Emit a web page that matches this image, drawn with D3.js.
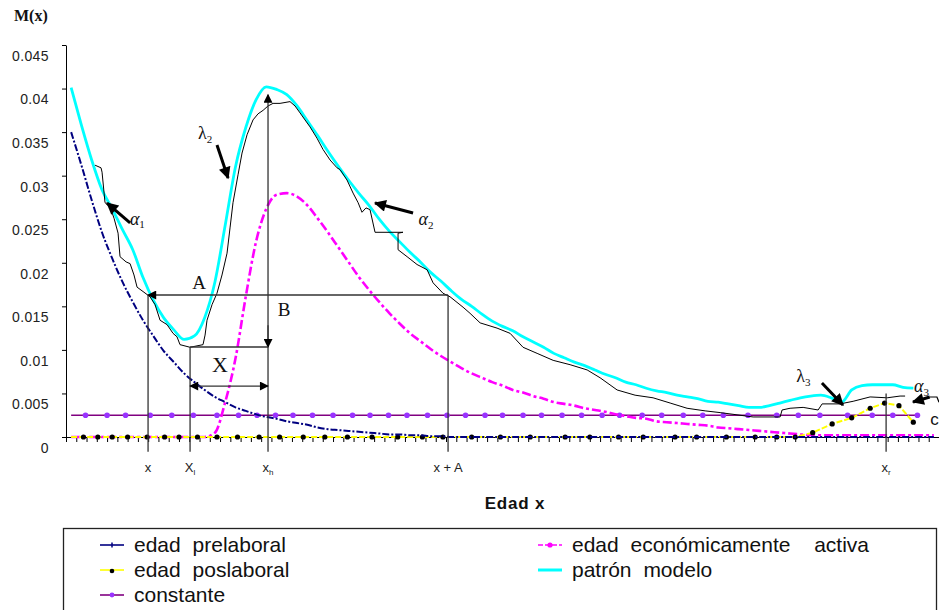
<!DOCTYPE html>
<html><head><meta charset="utf-8">
<script src="https://cdn.jsdelivr.net/npm/d3@7"></script>
<style>
body{margin:0;background:#fff}
svg{display:block}
text{font-family:"Liberation Sans",Arial,sans-serif}
.serif{font-family:"Liberation Serif","Times New Roman",serif}
</style>
</head><body>
<svg id="c" width="939" height="610"></svg>
<script>
// ---------- DATA ----------
const yTickValues = [0,0.005,0.01,0.015,0.02,0.025,0.03,0.035,0.04,0.045];
const yTickLabels = ["0","0.005","0.01","0.015","0.02","0.025","0.03","0.035","0.04","0.045"];
const xTickValues = d3.range(-0.5, 85, 1); // category boundaries (ages 0..84)

// edad prelaboral (ages 0..84)
const preAges = d3.range(0, 85);
const preVals = [0.0350,0.0312,0.0272,0.0235,0.0205,0.0178,0.0155,0.0134,0.0116,0.0099,
  0.0086,0.0073,0.0063,0.0054,0.0046,0.0040,0.0034,0.0030,0.0026,0.0023,
  0.0021,0.0018,0.0016,0.0014,0.0011,0.0009,0.0008,0.0007,0.0006,0.0005,
  0.0004,0.0003,0.0003,0.0002,0.0002,0.0001,0.0001,0,0,0,
  0,0,0,0,0,0,0,0,0,0,
  0,0,0,0,0,0,0,0,0,0,
  0,0,0,0,0,0,0,0,0,0,
  0,0,0,0,0,0,0,0,0,0,
  0,0,0,0,0];

// edad económicamente activa (ages 0..84)
const actAges = d3.range(0, 85);
const actVals = [0,0,0,0,0,0,0,0,0,0,
  0,0,0,0,0.0005,0.0040,0.0090,0.0161,0.0224,0.0262,
  0.0278,0.0280,0.0276,0.0266,0.0251,0.0235,0.0218,0.0201,0.0184,0.0169,
  0.0155,0.0142,0.0130,0.0119,0.0110,0.0101,0.0093,0.0086,0.0079,0.0073,
  0.0068,0.0063,0.0059,0.0054,0.0051,0.0047,0.0044,0.0040,0.0038,0.0036,
  0.0033,0.0031,0.0029,0.0026,0.0024,0.0022,0.0021,0.0018,0.0017,0.0016,
  0.0015,0.0014,0.0013,0.0011,0.0010,0.0009,0.0008,0.0007,0.0006,0.0005,
  0.0004,0.0003,0.0002,0.0002,0.0002,0.0002,0.0002,0.0002,0.0002,0.0002,
  0.0002,0.0002,0.0002,0.0002,0.0002];

// edad poslaboral
const posAges = [0,1.2,2.6,4.0,5.5,7.4,9.1,10.5,12.3,14.2,
  16.2,18.3,20.3,22.6,24.7,26.9,29.3,31.8,34.2,36.2,
  39.0,41.8,44.7,48.1,50.5,53.3,55.7,58.8,60.9,63.8,
  66.6,68.7,70.5,72.2,74.1,76.0,77.8,79.2,80.6,82.0];
const posVals = [0,0,0,0,0,0,0,0,0,0,
  0,0,0,0,0,0,0,0,0,0,
  0,0,0,0,0,0,0,0,0,0,
  0,0,0,0.0005,0.0015,0.0022,0.0033,0.0039,0.0036,0.0017];

// constante
const conAges = [0,1.4,3.5,5.3,7.7,9.8,11.9,14.2,16.3,18.1,
  19.9,21.6,23.5,25.5,27.4,29.1,30.9,32.7,34.7,36.6,
  38.4,40.3,42.0,44.0,45.8,47.8,49.7,51.7,53.4,55.6,
  57.5,59.6,61.5,63.5,65.9,68.7,70.8,72.9,75.6,78.0,
  80.0,82.4];
const conVals = [0.0025,0.0025,0.0025,0.0025,0.0025,0.0025,0.0025,0.0025,0.0025,0.0025,
  0.0025,0.0025,0.0025,0.0025,0.0025,0.0025,0.0025,0.0025,0.0025,0.0025,
  0.0025,0.0025,0.0025,0.0025,0.0025,0.0025,0.0025,0.0025,0.0025,0.0025,
  0.0025,0.0025,0.0025,0.0025,0.0025,0.0025,0.0025,0.0025,0.0025,0.0025,
  0.0025,0.0025];

// patrón modelo (ages 0..82)
const modAges = d3.range(0, 83);
const modVals = [0.0401,0.0358,0.0318,0.0284,0.0262,0.0238,0.0215,0.0183,0.0157,0.0137,
  0.0123,0.0112,0.0116,0.0137,0.0178,0.0243,0.0310,0.0355,0.0387,0.0402,
  0.0399,0.0393,0.0380,0.0363,0.0346,0.0328,0.0311,0.0295,0.0280,0.0266,
  0.0250,0.0236,0.0224,0.0212,0.0201,0.0189,0.0179,0.0168,0.0158,0.0150,
  0.0141,0.0133,0.0127,0.0122,0.0115,0.0109,0.0103,0.0096,0.0091,0.0086,
  0.0082,0.0077,0.0072,0.0068,0.0063,0.0060,0.0056,0.0053,0.0051,0.0048,
  0.0046,0.0044,0.0041,0.0040,0.0038,0.0036,0.0034,0.0034,0.0036,0.0039,
  0.0042,0.0045,0.0047,0.0048,0.0045,0.0040,0.0054,0.0059,0.0060,0.0060,
  0.0060,0.0057,0.0056];

// observed schedule
const obsAges = [2.33,2.91,3.01,3.30,3.79,4.18,4.57,4.76,5.35,5.74,6.12,6.42,7.00,7.68,8.17,8.66,9.34,9.92,10.31,10.60,
  11.58,12.84,13.04,13.23,13.72,14.20,14.69,15.18,15.47,15.76,16.25,16.64,17.13,17.71,18.20,18.69,19.17,19.66,20.34,21.31,
  21.80,22.29,22.77,23.26,23.94,24.53,25.21,25.89,26.18,26.86,27.45,27.94,28.32,28.71,29.10,29.59,32.31,31.83,31.83,32.71,
  33.68,34.66,35.24,36.21,36.89,38.16,38.84,39.82,41.47,42.74,44.00,45.37,46.93,48.58,50.24,51.50,53.16,54.91,56.66,58.32,
  59.97,61.73,63.19,66.40,69.03,69.22,70.00,71.27,72.73,73.12,74.87,76.14,77.79,79.45,80.71,81.20];
const obsVals = [0.0312,0.0309,0.0304,0.0269,0.0264,0.0251,0.0234,0.0207,0.0201,0.0199,0.0186,0.0172,0.0167,0.0161,0.0152,0.0134,0.0129,0.0119,0.0115,0.0106,
  0.0103,0.0106,0.0117,0.0134,0.0152,0.0165,0.0186,0.0211,0.0240,0.0269,0.0301,0.0326,0.0347,0.0364,0.0371,0.0375,0.0380,0.0383,0.0383,0.0385,
  0.0380,0.0372,0.0364,0.0356,0.0343,0.0330,0.0318,0.0309,0.0307,0.0295,0.0280,0.0269,0.0258,0.0263,0.0261,0.0235,0.0235,0.0234,0.0215,0.0207,
  0.0198,0.0192,0.0177,0.0165,0.0161,0.0149,0.0142,0.0131,0.0125,0.0119,0.0103,0.0096,0.0088,0.0083,0.0077,0.0068,0.0054,0.0048,0.0045,0.0039,
  0.0033,0.0030,0.0028,0.0023,0.0023,0.0031,0.0033,0.0034,0.0031,0.0038,0.0038,0.0041,0.0046,0.0045,0.0047,0.0047];

// annotation anchors (age, M(x))
const annX = {x:7.49, xl:11.58, xh:19.17, xA:36.70, xr:79.35};
const annV = {A:0.0163, l:0.01033, X:0.00585, top:0.0393, bottom:-0.0017, r:0.0050};
const xLabels = [["x","",7.49],["X","l",11.58],["x","h",19.17],["x + A","",36.70],["x","r",79.35]];

const legendItems = [
  {name:"edad prelaboral", col:0, row:0, key:"pre"},
  {name:"edad poslaboral", col:0, row:1, key:"pos"},
  {name:"constante", col:0, row:2, key:"con"},
  {name:"edad económicamente  activa", col:1, row:0, key:"act"},
  {name:"patrón modelo", col:1, row:1, key:"mod"}
];

// ---------- STYLES ----------
const C = {
  pre:{stroke:"#000080", width:2, dash:"7,2,2,2"},
  act:{stroke:"#ff00ff", width:2.6, dash:"9,3,3,3"},
  pos:{stroke:"#ffff00", width:2, dash:"6,2"},
  con:{stroke:"#800080", width:1.4, dash:null},
  mod:{stroke:"#00ffff", width:2.8, dash:null},
  obs:{stroke:"#000000", width:1, dash:null}
};

// ---------- CHART ----------
const svg = d3.select("#c");
const x = d3.scaleLinear().domain([-0.5, 84.5]).range([66, 939]);
const y = d3.scaleLinear().domain([0, 0.045]).range([437, 45]);

const defs = svg.append("defs");
function mk(id, w, h){
  defs.append("marker").attr("id", id).attr("markerUnits","userSpaceOnUse")
    .attr("viewBox","0 0 10 10").attr("refX",9).attr("refY",5)
    .attr("markerWidth",w).attr("markerHeight",h).attr("orient","auto-start-reverse")
    .append("path").attr("d","M0,0 L10,5 L0,10 Z").attr("fill","#000");
}
mk("ahThin", 10, 9);
mk("ahBold", 13, 12);

// axes
const gx = svg.append("g").attr("transform","translate(0,437)")
  .call(d3.axisBottom(x).tickValues(xTickValues).tickSize(5).tickSizeOuter(0).tickFormat(""));
gx.selectAll("path,line").attr("stroke","#000");

const gy = svg.append("g").attr("transform","translate(66,0)")
  .call(d3.axisLeft(y).tickValues(yTickValues).tickSize(4).tickSizeOuter(0).tickPadding(13)
    .tickFormat((d,i)=>yTickLabels[yTickValues.indexOf(d)]));
gy.selectAll("path,line").attr("stroke","#000");
gy.selectAll("text").attr("font-size",14).attr("fill","#222").attr("dy","1.1em")
  .attr("letter-spacing","0.4px").attr("font-family","'Liberation Sans',Arial,sans-serif");

function series(ages, vals, st, curve){
  const ln = d3.line().x((d,i)=>x(ages[i])).y(d=>y(d)).curve(curve||d3.curveLinear);
  const p = svg.append("path").attr("d", ln(vals)).attr("fill","none")
    .attr("stroke", st.stroke).attr("stroke-width", st.width).attr("stroke-linejoin","round");
  if (st.dash) p.attr("stroke-dasharray", st.dash);
  return p;
}

// constante
series(conAges, conVals, C.con);
svg.append("g").selectAll("circle").data(conVals.slice(1)).join("circle")
  .attr("cx",(d,i)=>x(conAges[i+1])).attr("cy",d=>y(d)).attr("r",2.8)
  .attr("fill","#9933ff");

// económicamente activa
series(actAges, actVals, C.act, d3.curveMonotoneX);
// poslaboral
series(posAges, posVals, C.pos);
svg.append("g").selectAll("circle").data(posVals.slice(1)).join("circle")
  .attr("cx",(d,i)=>x(posAges[i+1])).attr("cy",d=>y(d)).attr("r",2.6).attr("fill","#000");
// prelaboral
series(preAges, preVals, C.pre, d3.curveMonotoneX);
// modelo
series(modAges, modVals, C.mod, d3.curveMonotoneX);
// observed
series(obsAges, obsVals, C.obs);

// ---------- ANNOTATIONS ----------
const ann = svg.append("g").attr("stroke","#333").attr("stroke-width",1.3).attr("fill","none");
function seg(a1,v1,a2,v2,opt={}){
  const l = ann.append("line").attr("x1",x(a1)).attr("y1",y(v1)).attr("x2",x(a2)).attr("y2",y(v2));
  if(opt.end) l.attr("marker-end","url(#"+opt.end+")");
  if(opt.start) l.attr("marker-start","url(#"+opt.start+")");
  return l;
}
seg(annX.x, annV.A, annX.x, annV.bottom);
seg(annX.xl, annV.l, annX.xl, annV.bottom);
seg(annX.xA, annV.A, annX.xA, annV.bottom);
seg(annX.xr, annV.r, annX.xr, annV.bottom);
seg(annX.xh, annV.bottom, annX.xh, annV.top, {end:"ahThin"});
seg(annX.xh, annV.l+0.0025, annX.xh, annV.l, {end:"ahThin"});
seg(annX.xA, annV.A, annX.x, annV.A, {end:"ahThin"});
seg(annX.xl, annV.l, annX.xh, annV.l);
seg(annX.xl, annV.X, annX.xh, annV.X, {start:"ahThin", end:"ahThin"});

// bold arrows for parameters
const boldArrows = [
  [5.74,0.02457,3.50,0.02686],
  [14.20,0.03352,15.28,0.02973],
  [33.29,0.02571,29.59,0.02686],
  [73.10,0.00620,75.15,0.00367],
  [83.60,0.00459,81.97,0.00402]
];
boldArrows.forEach(b=>{
  svg.append("line").attr("x1",x(b[0])).attr("y1",y(b[1])).attr("x2",x(b[2])).attr("y2",y(b[3]))
    .attr("stroke","#000").attr("stroke-width",3).attr("marker-end","url(#ahBold)");
});
svg.append("path").attr("d",`M${x(83.6)},${y(0.00459)} L${x(84.3)},${y(0.00459)} L${x(84.5)},${y(0.0040)}`)
  .attr("fill","none").attr("stroke","#000").attr("stroke-width",1.2);

// letters
function serifLabel(t, a, v, size){
  svg.append("text").attr("class","serif").attr("x",x(a)).attr("y",y(v)).attr("dy","0.35em")
    .attr("text-anchor","middle").attr("font-size",size).attr("fill","#111").text(t);
}
serifLabel("A", 12.45, 0.0178, 19);
serifLabel("B", 20.73, 0.0147, 19);
serifLabel("X", 14.50, 0.0083, 22);

function greek(ch, sub, a, v){
  const t = svg.append("text").attr("class","serif").attr("x",x(a)).attr("y",y(v)).attr("dy","0.3em")
    .attr("text-anchor","middle").attr("font-size",18).attr("fill","#111");
  t.append("tspan").attr("font-style", ch==="α"?"italic":"normal").text(ch);
  t.append("tspan").attr("font-size",11).attr("dy","0.35em").text(sub);
}
greek("α","1", 6.45, 0.0250);
greek("λ","2", 13.05, 0.0348);
greek("α","2", 34.55, 0.0249);
greek("λ","3", 71.30, 0.0069);
greek("α","3", 82.80, 0.0058);
svg.append("text").attr("x",x(84.05)).attr("y",y(0.0021)).attr("dy","0.35em")
  .attr("text-anchor","middle").attr("font-size",17).attr("fill","#111").text("c");

// x labels
xLabels.forEach(l=>{
  const t = svg.append("text").attr("x",x(l[2])).attr("y",472).attr("text-anchor","middle")
    .attr("font-size",13).attr("fill","#222");
  t.append("tspan").text(l[0]);
  if(l[1]) t.append("tspan").attr("font-size",8).attr("dy","3").text(l[1]);
});

// titles
svg.append("text").attr("class","serif").attr("x",14).attr("y",21).attr("font-size",16)
  .attr("font-weight","bold").attr("fill","#111").text("M(x)");
svg.append("text").attr("x",515).attr("y",509).attr("text-anchor","middle").attr("font-size",17)
  .attr("font-weight","bold").attr("letter-spacing","0.8px").attr("fill","#111").text("Edad x");

// ---------- LEGEND ----------
svg.append("rect").attr("x",63.5).attr("y",528.5).attr("width",873).attr("height",100)
  .attr("fill","none").attr("stroke","#222").attr("stroke-width",1.3);
const colX = [100, 538];
const rowY = [545, 570, 595];
legendItems.forEach(it=>{
  const st = C[it.key];
  const x0 = colX[it.col], yy = rowY[it.row];
  const l = svg.append("line").attr("x1",x0).attr("x2",x0+24).attr("y1",yy).attr("y2",yy)
    .attr("stroke",st.stroke).attr("stroke-width", it.key==="mod"?3:1.6);
  if(it.key==="act") l.attr("stroke-dasharray","5,2");
  if(it.key==="pre") svg.append("line").attr("x1",x0+12).attr("x2",x0+12).attr("y1",yy-2.5).attr("y2",yy+2.5).attr("stroke","#000080").attr("stroke-width",1.5);
  if(it.key==="pos") svg.append("circle").attr("cx",x0+12).attr("cy",yy+1).attr("r",2.3).attr("fill","#000");
  if(it.key==="con") svg.append("circle").attr("cx",x0+12).attr("cy",yy).attr("r",2.4).attr("fill","#9933ff");
  if(it.key==="act") svg.append("circle").attr("cx",x0+12).attr("cy",yy).attr("r",2.6).attr("fill","#ff00ff");
  svg.append("text").attr("x",x0+34).attr("y",yy).attr("dy","0.35em").attr("font-size",21)
    .attr("fill","#111").attr("word-spacing","6px").style("white-space","pre").text(it.name);
});
</script>
</body></html>
